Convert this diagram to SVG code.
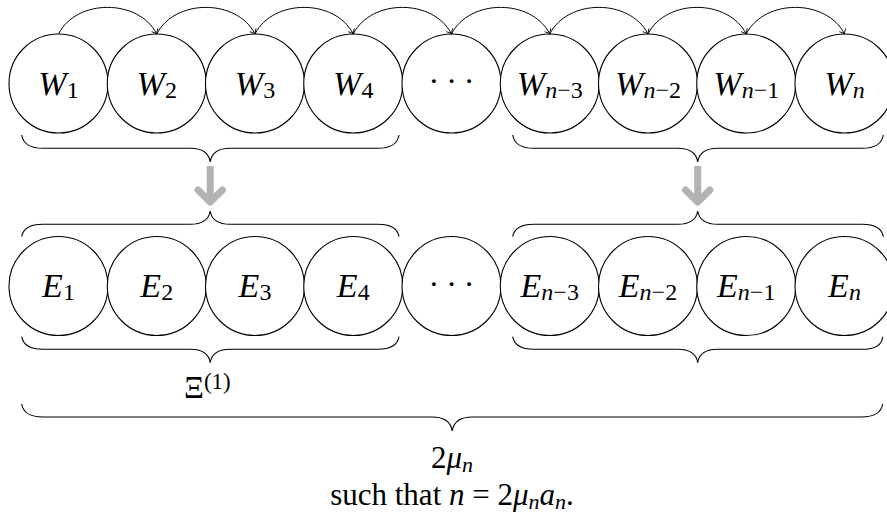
<svg xmlns="http://www.w3.org/2000/svg" width="887" height="517" viewBox="0 0 887 517">
<style>
.nd{fill:#fff;stroke:#000;stroke-width:1.1}
.lb{font-family:"Liberation Serif",serif;font-size:34px;font-style:italic;fill:#000}
.sb{font-size:24px}
.up{font-style:normal}
.dt{font-family:"Liberation Serif",serif;font-size:32px;letter-spacing:7px;fill:#000}
.br{fill:none;stroke:#000;stroke-width:1.1}
.arc{fill:none;stroke:#000;stroke-width:1;marker-end:url(#ah)}
.ga{fill:none;stroke:#b3b3b3;stroke-width:7}
.tx{font-family:"Liberation Serif",serif;font-size:31px;fill:#000}
</style>
<defs>
<marker id="ah" viewBox="-6 -5 8 10" markerWidth="8" markerHeight="10" refX="0" refY="0" orient="auto" markerUnits="userSpaceOnUse">
<path d="M-4.5,-3.5 Q-1.5,-0.8 0,0 Q-1.5,0.8 -4.5,3.5" fill="none" stroke="#000" stroke-width="0.9"/>
</marker>
</defs>

<g id="W1"><circle class="nd" cx="58.5" cy="83.5" r="49.5"/><text class="lb" x="58.5" y="95" text-anchor="middle">W<tspan class="sb up" dy="3">1</tspan></text></g>
<g id="W2"><circle class="nd" cx="156.75" cy="83.5" r="49.5"/><text class="lb" x="156.75" y="95" text-anchor="middle">W<tspan class="sb up" dy="3">2</tspan></text></g>
<g id="W3"><circle class="nd" cx="255" cy="83.5" r="49.5"/><text class="lb" x="255" y="95" text-anchor="middle">W<tspan class="sb up" dy="3">3</tspan></text></g>
<g id="W4"><circle class="nd" cx="353.25" cy="83.5" r="49.5"/><text class="lb" x="353.25" y="95" text-anchor="middle">W<tspan class="sb up" dy="3">4</tspan></text></g>
<g id="Wdots"><circle class="nd" cx="451.5" cy="83.5" r="49.5"/><text class="dt" x="455" y="92" text-anchor="middle">···</text></g>
<g id="Wn3"><circle class="nd" cx="549.75" cy="83.5" r="49.5"/><text class="lb" x="549.75" y="95" text-anchor="middle">W<tspan class="sb" dy="3">n</tspan><tspan class="sb up">−3</tspan></text></g>
<g id="Wn2"><circle class="nd" cx="648" cy="83.5" r="49.5"/><text class="lb" x="648" y="95" text-anchor="middle">W<tspan class="sb" dy="3">n</tspan><tspan class="sb up">−2</tspan></text></g>
<g id="Wn1"><circle class="nd" cx="746.25" cy="83.5" r="49.5"/><text class="lb" x="746.25" y="95" text-anchor="middle">W<tspan class="sb" dy="3">n</tspan><tspan class="sb up">−1</tspan></text></g>
<g id="Wn"><circle class="nd" cx="844.5" cy="83.5" r="49.5"/><text class="lb" x="844.5" y="95" text-anchor="middle">W<tspan class="sb" dy="3">n</tspan></text></g>

<g id="E1"><circle class="nd" cx="58.5" cy="286" r="49.5"/><text class="lb" x="58.5" y="297" text-anchor="middle">E<tspan class="sb up" dy="3">1</tspan></text></g>
<g id="E2"><circle class="nd" cx="156.75" cy="286" r="49.5"/><text class="lb" x="156.75" y="297" text-anchor="middle">E<tspan class="sb up" dy="3">2</tspan></text></g>
<g id="E3"><circle class="nd" cx="255" cy="286" r="49.5"/><text class="lb" x="255" y="297" text-anchor="middle">E<tspan class="sb up" dy="3">3</tspan></text></g>
<g id="E4"><circle class="nd" cx="353.25" cy="286" r="49.5"/><text class="lb" x="353.25" y="297" text-anchor="middle">E<tspan class="sb up" dy="3">4</tspan></text></g>
<g id="Edots"><circle class="nd" cx="451.5" cy="286" r="49.5"/><text class="dt" x="455" y="294.5" text-anchor="middle">···</text></g>
<g id="En3"><circle class="nd" cx="549.75" cy="286" r="49.5"/><text class="lb" x="549.75" y="297" text-anchor="middle">E<tspan class="sb" dy="3">n</tspan><tspan class="sb up">−3</tspan></text></g>
<g id="En2"><circle class="nd" cx="648" cy="286" r="49.5"/><text class="lb" x="648" y="297" text-anchor="middle">E<tspan class="sb" dy="3">n</tspan><tspan class="sb up">−2</tspan></text></g>
<g id="En1"><circle class="nd" cx="746.25" cy="286" r="49.5"/><text class="lb" x="746.25" y="297" text-anchor="middle">E<tspan class="sb" dy="3">n</tspan><tspan class="sb up">−1</tspan></text></g>
<g id="En"><circle class="nd" cx="844.5" cy="286" r="49.5"/><text class="lb" x="844.5" y="297" text-anchor="middle">E<tspan class="sb" dy="3">n</tspan></text></g>

<g id="connectors">
<path class="arc" d="M58.5,34 C76.5,-1.5 138.75,-1.5 156.75,34"/>
<path class="arc" d="M156.75,34 C174.75,-1.5 237,-1.5 255,34"/>
<path class="arc" d="M255,34 C273,-1.5 335.25,-1.5 353.25,34"/>
<path class="arc" d="M353.25,34 C371.25,-1.5 433.5,-1.5 451.5,34"/>
<path class="arc" d="M451.5,34 C469.5,-1.5 531.75,-1.5 549.75,34"/>
<path class="arc" d="M549.75,34 C567.75,-1.5 630,-1.5 648,34"/>
<path class="arc" d="M648,34 C666,-1.5 728.25,-1.5 746.25,34"/>
<path class="arc" d="M746.25,34 C764.25,-1.5 826.5,-1.5 844.5,34"/>
<path class="ga" d="M210.2,166 V202"/>
<path class="ga" d="M198,190 L210.2,202 L222.4,190" stroke-linecap="round" stroke-linejoin="round"/>
<path class="ga" d="M697.7,166 V202"/>
<path class="ga" d="M685.5,190 L697.7,202 L709.9,190" stroke-linecap="round" stroke-linejoin="round"/>
</g>

<g id="braces">
<path class="br" d="M21.7,135 C23,143 30,148.3 43,148.3 H190 C203,148.3 209,154 210.2,162 C211.4,154 217.4,148.3 230.4,148.3 H377.7 C390.7,148.3 397.7,143 399,135"/>
<path class="br" d="M512.7,135 C514,143 521,148.3 534,148.3 H677.5 C690.5,148.3 696.5,154 697.7,162 C698.9,154 704.9,148.3 717.9,148.3 H862 C875,148.3 882,143 883.3,135"/>
<path class="br" d="M21.7,236.7 C23,228.7 30,224.3 43,224.3 H190 C203,224.3 209,219 210.2,211 C211.4,219 217.4,224.3 230.4,224.3 H377.7 C390.7,224.3 397.7,228.7 399,236.7"/>
<path class="br" d="M512.7,236.7 C514,228.7 521,224.3 534,224.3 H677.5 C690.5,224.3 696.5,219 697.7,211 C698.9,219 704.9,224.3 717.9,224.3 H862 C875,224.3 882,228.7 883.3,236.7"/>
<path class="br" d="M21.7,336.7 C23,344.7 30,349.3 43,349.3 H190 C203,349.3 209,354.7 210.2,362.7 C211.4,354.7 217.4,349.3 230.4,349.3 H377.7 C390.7,349.3 397.7,344.7 399,336.7"/>
<path class="br" d="M512.7,336.7 C514,344.7 521,349.3 534,349.3 H677.5 C690.5,349.3 696.5,354.7 697.7,362.7 C698.9,354.7 704.9,349.3 717.9,349.3 H862 C875,349.3 882,344.7 882.7,336.7"/>
<path class="br" d="M21.7,404 C23,412 30,417 43,417 H432 C445,417 451,423 452.2,431 C453.4,423 459.4,417 472.4,417 H861.4 C874.4,417 881.4,412 882.7,404"/>
</g>

<text class="tx" x="184" y="398" font-size="32">Ξ<tspan font-size="23" dy="-9">(1)</tspan></text>
<text class="tx" x="452" y="468" text-anchor="middle">2<tspan font-style="italic">μ</tspan><tspan font-style="italic" font-size="22" dy="4">n</tspan></text>
<text class="tx" x="452" y="505" text-anchor="middle">such that <tspan font-style="italic">n</tspan> = 2<tspan font-style="italic">μ</tspan><tspan font-style="italic" font-size="22" dy="4">n</tspan><tspan font-style="italic" dy="-4">a</tspan><tspan font-style="italic" font-size="22" dy="4">n</tspan><tspan dy="-4">.</tspan></text>
</svg>
